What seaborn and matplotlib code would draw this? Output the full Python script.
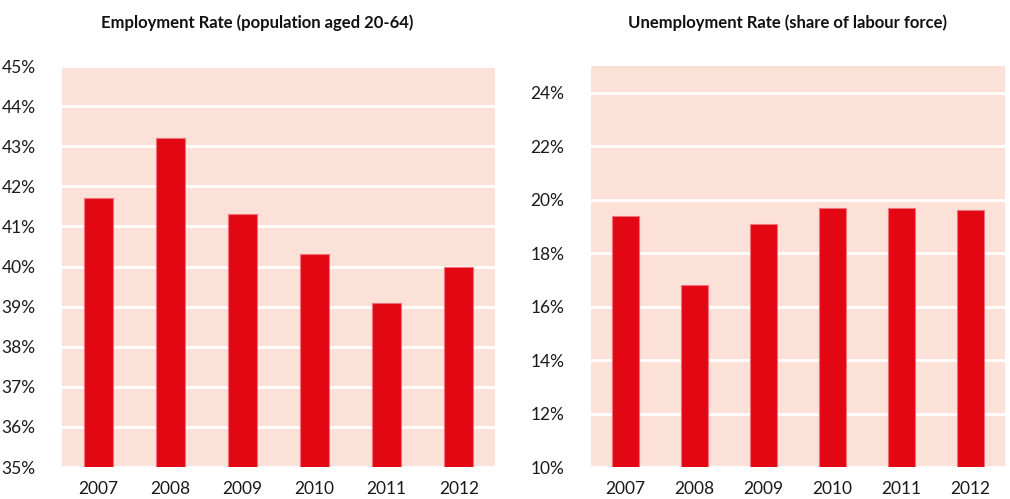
import pandas as pd
import matplotlib
matplotlib.use('Agg')
import matplotlib.pyplot as plt
import seaborn as sns
from matplotlib.ticker import FuncFormatter

years = ['2007', '2008', '2009', '2010', '2011', '2012']
employment = [41.7, 43.2, 41.3, 40.3, 39.1, 40.0]
unemployment = [19.4, 16.8, 19.1, 19.7, 19.7, 19.6]

emp_ticks = [35, 36, 37, 38, 39, 40, 41, 42, 43, 44, 45]
unemp_ticks = [10, 12, 14, 16, 18, 20, 22, 24]

bar_color = '#E30613'
bg_color = '#FCE1D8'

sns.set_style('white')
plt.rcParams['font.family'] = ['Lato', 'DejaVu Sans']

fig = plt.figure(figsize=(10.1, 4.99), dpi=100)
ax1 = fig.add_axes([0.0614, 0.0641, 0.4286, 0.8036])
ax2 = fig.add_axes([0.585, 0.0641, 0.410, 0.8036])

pct = FuncFormatter(lambda v, p: f'{v:.0f}%')

def draw(ax, vals, ylim, ticks, title, tx):
    df = pd.DataFrame({'year': years, 'value': vals})
    ax.set_facecolor(bg_color)
    sns.barplot(data=df, x='year', y='value', ax=ax, color=bar_color,
                width=0.4, saturation=1, edgecolor='#F2707A', linewidth=0.8,
                zorder=3)
    ax.set_ylim(*ylim)
    ax.set_xlim(-0.5, 5.5)
    ax.set_yticks(ticks)
    ax.yaxis.set_major_formatter(pct)
    ax.grid(axis='y', color='white', linewidth=2, zorder=1)
    ax.set_axisbelow(True)
    for s in ax.spines.values():
        s.set_visible(False)
    ax.set_xlabel('')
    ax.set_ylabel('')
    ax.tick_params(axis='y', length=0, pad=19, labelsize=12.5, colors='#1a1a1a')
    ax.tick_params(axis='x', length=0, pad=10, labelsize=12.5, colors='#1a1a1a')
    fig.text(tx, 0.955, title, ha='center', va='center', fontsize=12,
             fontweight='bold', color='#111111')

draw(ax1, employment, (35, 45), emp_ticks,
     'Employment Rate (population aged 20-64)', 0.255)
draw(ax2, unemployment, (10, 25), unemp_ticks,
     'Unemployment Rate (share of labour force)', 0.78)

fig.savefig('out.png', dpi=100)
